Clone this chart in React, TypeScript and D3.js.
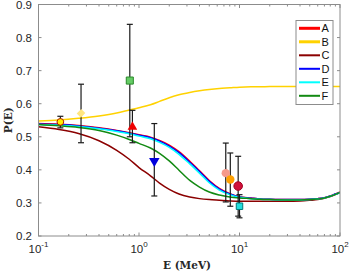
import React from "react";
import * as d3 from "d3";

// ---- Data ----
const energyGrid = [0.1, 0.16, 0.25, 0.4, 0.6, 0.8, 1.0, 1.3, 1.6, 2.0, 2.5, 3.2, 4, 5, 6.3, 8, 10, 13, 16, 20, 30, 40, 50, 60, 70, 80, 90, 100];

const seriesA = [0.540, 0.538, 0.534, 0.527, 0.519, 0.512, 0.506, 0.499, 0.489, 0.475, 0.455, 0.426, 0.397, 0.368, 0.344, 0.328, 0.319, 0.315, 0.312, 0.311, 0.310, 0.310, 0.311, 0.313, 0.316, 0.321, 0.327, 0.333];
const seriesB = [0.548, 0.551, 0.556, 0.563, 0.572, 0.581, 0.588, 0.597, 0.607, 0.618, 0.627, 0.634, 0.639, 0.643, 0.646, 0.648, 0.650, 0.651, 0.651, 0.652, 0.652, 0.652, 0.652, 0.652, 0.652, 0.652, 0.652, 0.652];
const seriesC = [0.530, 0.522, 0.510, 0.488, 0.459, 0.432, 0.407, 0.382, 0.360, 0.341, 0.327, 0.318, 0.313, 0.310, 0.308, 0.306, 0.305, 0.305, 0.305, 0.305, 0.305, 0.306, 0.308, 0.310, 0.314, 0.319, 0.325, 0.331];
const seriesD = [0.539, 0.537, 0.533, 0.526, 0.518, 0.511, 0.505, 0.497, 0.487, 0.472, 0.452, 0.423, 0.395, 0.365, 0.342, 0.327, 0.318, 0.314, 0.312, 0.311, 0.310, 0.310, 0.311, 0.313, 0.316, 0.321, 0.327, 0.332];
const seriesE = [0.537, 0.535, 0.531, 0.524, 0.516, 0.509, 0.502, 0.494, 0.483, 0.468, 0.447, 0.418, 0.390, 0.361, 0.339, 0.325, 0.317, 0.313, 0.311, 0.310, 0.309, 0.309, 0.310, 0.312, 0.315, 0.320, 0.326, 0.331];
const seriesF = [0.537, 0.533, 0.528, 0.519, 0.505, 0.492, 0.480, 0.466, 0.450, 0.427, 0.399, 0.368, 0.348, 0.333, 0.324, 0.318, 0.315, 0.313, 0.311, 0.310, 0.309, 0.309, 0.310, 0.312, 0.315, 0.320, 0.326, 0.332];

const seriesNames = ["A", "B", "C", "D", "E", "F"];
const seriesColors = ["#ff0000", "#ffd200", "#8b0000", "#0000ff", "#00ffff", "#138a13"];

// experimental points
const pointE = [0.165, 0.265, 0.81, 0.86, 1.42, 7.3, 8.1, 9.7, 10.0];
const pointP = [0.545, 0.571, 0.67, 0.53, 0.427, 0.39, 0.371, 0.351, 0.29];
const pointLo = [0.527, 0.482, 0.50, 0.482, 0.321, 0.303, 0.29, 0.26, 0.255];
const pointHi = [0.562, 0.659, 0.84, 0.58, 0.54, 0.481, 0.451, 0.441, 0.325];
const pointShape = ["circle", "diamond", "square", "triangle", "triangleDown", "circle", "circle", "circle", "square"];
const pointFill = ["#ffee00", "#ffe680", "#66cc66", "#ee0000", "#0000dd", "#f5998a", "#ffa000", "#d0103a", "#22dddd"];
const pointStroke = ["#b01500", "none", "#2a8a2a", "none", "none", "none", "none", "#a00020", "#007a7a"];
const pointSize = [36, 34, 50, 40, 48, 55, 55, 58, 42];

const yTicks = [0.2, 0.3, 0.4, 0.5, 0.6, 0.7, 0.8, 0.9];
const xMajor = [0.1, 1, 10, 100];
const xMajorExp = ["-1", "0", "1", "2"];

export default function App() {
  const W = 350, H = 274;
  const x = d3.scaleLog().domain([0.1, 100]).range([38.5, 340]);
  const y = d3.scaleLinear().domain([0.2, 0.9]).range([236, 4.5]);
  const all = [seriesA, seriesB, seriesC, seriesD, seriesE, seriesF];
  const line = d3.line<number>()
    .x((_, i) => x(energyGrid[i]))
    .y((d) => y(d))
    .curve(d3.curveMonotoneX);

  const minor: number[] = [];
  [0.1, 1, 10].forEach((dec) => {
    for (let k = 2; k <= 9; k++) minor.push(dec * k);
  });

  const symType = (s: string) => {
    if (s === "circle") return d3.symbolCircle;
    if (s === "square" || s === "diamond") return d3.symbolSquare;
    return d3.symbolTriangle;
  };
  const symRot = (s: string) => (s === "triangleDown" ? " rotate(180)" : s === "diamond" ? " rotate(45) scale(1,1.1)" : "");

  const axisColor = "#8c8c8c";
  const textColor = "#262626";
  const font = "'Liberation Sans', Arial, sans-serif";
  const x0 = x(0.1), x1 = x(100), y0 = y(0.2), y1 = y(0.9);

  return (
    <svg width={W} height={H} style={{ position: "absolute", left: 0, top: 0, background: "#fff" }}>
      <defs>
        <clipPath id="plotclip">
          <rect x={x0} y={y1} width={x1 - x0} height={y0 - y1} />
        </clipPath>
      </defs>
      <rect x={0} y={0} width={W} height={H} fill="#fff" />
      {/* curves */}
      <g clipPath="url(#plotclip)">
        {all.map((s, i) => (
          <path key={i} d={line(s) || ""} fill="none" stroke={seriesColors[i]} strokeWidth={1.5} />
        ))}
      </g>
      {/* error bars */}
      {pointE.map((e, i) => (
        <g key={"eb" + i} stroke="#1a1a1a" strokeWidth={1.2}>
          <line x1={x(e)} x2={x(e)} y1={y(pointLo[i])} y2={y(pointHi[i])} />
          <line x1={x(e) - 3} x2={x(e) + 3} y1={y(pointLo[i])} y2={y(pointLo[i])} />
          <line x1={x(e) - 3} x2={x(e) + 3} y1={y(pointHi[i])} y2={y(pointHi[i])} />
        </g>
      ))}
      {/* markers */}
      {pointE.map((e, i) => (
        <path
          key={"pt" + i}
          d={d3.symbol().type(symType(pointShape[i])).size(pointSize[i])() || ""}
          transform={`translate(${x(e)},${y(pointP[i])})${symRot(pointShape[i])}`}
          fill={pointFill[i]}
          stroke={pointStroke[i]}
          strokeWidth={1}
        />
      ))}
      {/* axes box */}
      <rect x={x0} y={y1} width={x1 - x0} height={y0 - y1} fill="none" stroke={axisColor} strokeWidth={1} />
      {/* y ticks */}
      {yTicks.map((t) => (
        <g key={"yt" + t}>
          <line x1={x0} x2={x0 + 3} y1={y(t)} y2={y(t)} stroke={axisColor} />
          <line x1={x1} x2={x1 - 3} y1={y(t)} y2={y(t)} stroke={axisColor} />
          <text x={32} y={y(t) + 4} textAnchor="end" fontFamily={font} fontSize={11.5} fill={textColor}>
            {t.toFixed(1)}
          </text>
        </g>
      ))}
      {/* x ticks */}
      {xMajor.map((t, i) => (
        <g key={"xt" + t}>
          <line x1={x(t)} x2={x(t)} y1={y0} y2={y0 - 3.5} stroke={axisColor} />
          <line x1={x(t)} x2={x(t)} y1={y1} y2={y1 + 3.5} stroke={axisColor} />
          <text x={x(t)} y={253} textAnchor="middle" fontFamily={font} fontSize={11.5} fill={textColor}>
            10<tspan dy={-6} fontSize={8}>{xMajorExp[i]}</tspan>
          </text>
        </g>
      ))}
      {minor.map((t) => (
        <g key={"xm" + t}>
          <line x1={x(t)} x2={x(t)} y1={y0} y2={y0 - 2} stroke={axisColor} />
          <line x1={x(t)} x2={x(t)} y1={y1} y2={y1 + 2} stroke={axisColor} />
        </g>
      ))}
      {/* axis labels */}
      <text x={187} y={269} textAnchor="middle" fontFamily="'DejaVu Serif', 'Liberation Serif', serif" fontWeight="bold" fontSize={10.5} fill={textColor}>
        E (MeV)
      </text>
      <text
        transform={`translate(12,${(y0 + y1) / 2}) rotate(-90)`}
        textAnchor="middle"
        fontFamily="'DejaVu Serif', 'Liberation Serif', serif"
        fontWeight="bold"
        fontSize={10.5}
        fill={textColor}
      >
        P(E)
      </text>
      {/* legend */}
      <g>
        <rect x={296} y={20.5} width={37} height={84} fill="#fff" stroke="#8c8c8c" strokeWidth={1} />
        {seriesNames.map((n, i) => (
          <g key={"lg" + n}>
            <line x1={299} x2={320} y1={28.3 + i * 13.5} y2={28.3 + i * 13.5} stroke={seriesColors[i]} strokeWidth={i < 2 ? 3 : 2} />
            <text x={321.5} y={28.3 + i * 13.5 + 4} fontFamily={font} fontSize={11} fill="#111">
              {n}
            </text>
          </g>
        ))}
      </g>
    </svg>
  );
}
